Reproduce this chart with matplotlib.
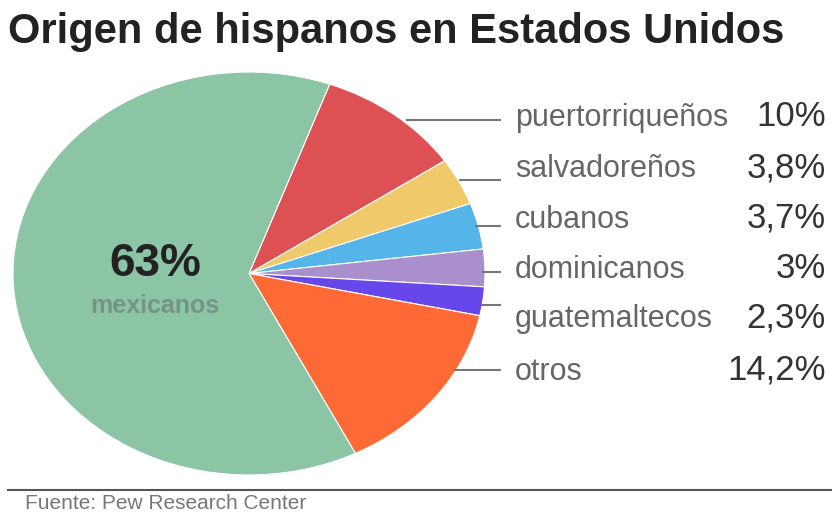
import matplotlib.pyplot as plt
from matplotlib.lines import Line2D

origenes = ['puertorriqueños', 'salvadoreños', 'cubanos', 'dominicanos',
            'guatemaltecos', 'otros', 'mexicanos']
porcentajes = [10, 3.8, 3.7, 3, 2.3, 14.2, 63]
etiquetas_pct = ['10%', '3,8%', '3,7%', '3%', '2,3%', '14,2%', '63%']
colores = ['#dd5053', '#f0c96a', '#55b4e8', '#a98fcb', '#6747ea', '#fe6a36', '#8cc5a6']

W, H = 832, 513


def fx(px):
    return px / W


def fy(py):
    return 1 - py / H


fig = plt.figure(figsize=(8.32, 5.13), dpi=100)
fig.patch.set_facecolor('white')

# pie (stretched horizontally like the original)
ax = fig.add_axes([fx(13), fy(475), (485 - 13) / W, (475 - 72) / H])
ax.pie(porcentajes, colors=colores, startangle=70, counterclock=False,
       wedgeprops=dict(edgecolor='white', linewidth=0.8))
ax.set_aspect('auto')
ax.set_xlim(-1, 1)
ax.set_ylim(-1, 1)
ax.axis('off')

# title
fig.text(fx(8), fy(43), 'Origen de hispanos en Estados Unidos', family='Liberation Sans',
         fontsize=30, fontweight='bold', color='#222222', va='baseline', ha='left')

# center label
fig.text(fx(155), fy(276), etiquetas_pct[-1], family='Liberation Sans', fontsize=33,
         fontweight='bold', color='#222222', ha='center', va='baseline')
fig.text(fx(155), fy(313), origenes[-1], family='Liberation Sans', fontsize=18,
         fontweight='bold', color='#749584', ha='center', va='baseline')

# labels on the right
linea_x0 = [407, 460, 476, 483, 482, 455]
linea_y = [120, 180, 226, 272, 305, 370]
base_y = [126, 177, 228, 278, 327, 380]
for i in range(6):
    fig.add_artist(Line2D([fx(linea_x0[i]), fx(500)], [fy(linea_y[i])] * 2,
                          color='#777777', linewidth=1.5))
    fig.text(fx(515), fy(base_y[i]), origenes[i], family='Liberation Sans',
             fontsize=22, color='#666666', ha='left', va='baseline')
    fig.text(fx(826), fy(base_y[i]), etiquetas_pct[i], family='Liberation Sans',
             fontsize=25, color='#333333', ha='right', va='baseline')

# footer
fig.add_artist(Line2D([fx(8), fx(832)], [fy(490)] * 2, color='#555555', linewidth=1.5))
fig.text(fx(25), fy(509), 'Fuente: Pew Research Center', family='Liberation Sans',
         fontsize=15, color='#777777', ha='left', va='baseline')

fig.savefig('out.png', dpi=100)
